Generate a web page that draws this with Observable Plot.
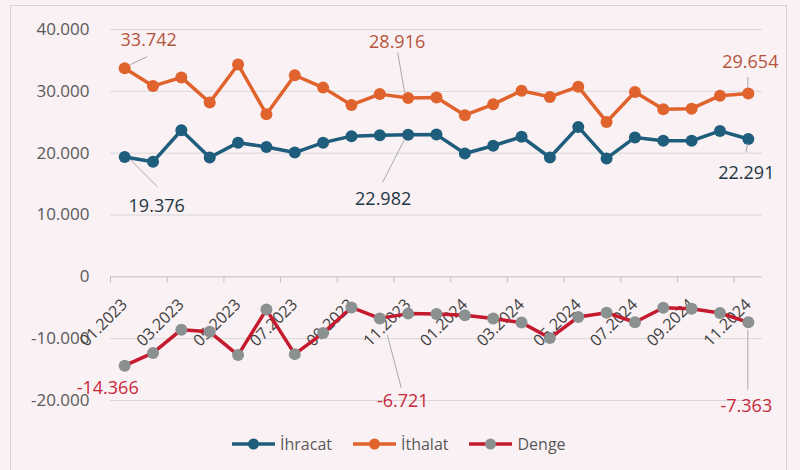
<!DOCTYPE html>
<html>
<head>
<meta charset="utf-8">
<script src="https://cdn.jsdelivr.net/npm/d3@7"></script>
<script src="https://cdn.jsdelivr.net/npm/@observablehq/plot@0.6"></script>
<style>
  html, body { margin: 0; padding: 0; background: #faf1f4; }
  body { width: 800px; height: 470px; position: relative; overflow: hidden; font-family: "Open Sans", sans-serif; }
  #frame { position: absolute; left: 10px; top: 5px; width: 777px; height: 480px; border: 1px solid #d9d2d5; box-sizing: border-box; }
  #chart { position: absolute; left: 0; top: 0; }
  #legend { position: absolute; left: 232px; top: 433px; display: flex; align-items: center; font-size: 16px; color: #595959; }
  .item { display: flex; align-items: center; margin-right: 21px; }
  .item svg { margin-right: 5px; }
</style>
</head>
<body>
<div id="frame"></div>
<div id="chart"></div>
<div id="legend"></div>
<script>
// ---- data ----
const months = ["01.2023","02.2023","03.2023","04.2023","05.2023","06.2023","07.2023","08.2023","09.2023","10.2023","11.2023","12.2023",
                "01.2024","02.2024","03.2024","04.2024","05.2024","06.2024","07.2024","08.2024","09.2024","10.2024","11.2024"];
const ihracat = [19376, 18600, 23700, 19300, 21700, 21000, 20100, 21700, 22750, 22900, 22982, 23000,
                 19950, 21200, 22650, 19300, 24250, 19150, 22550, 22000, 22000, 23600, 22291];
const ithalat = [33742, 30850, 32250, 28200, 34350, 26300, 32600, 30600, 27800, 29550, 28916, 29000,
                 26150, 27900, 30100, 29100, 30750, 25050, 29900, 27100, 27200, 29300, 29654];
const denge = [-14366, -12300, -8550, -8900, -12650, -5300, -12500, -9100, -4950, -6721, -5950, -6000,
               -6200, -6750, -7400, -9900, -6500, -5800, -7350, -5000, -5150, -5850, -7363];
const seriesNames = ["İhracat", "İthalat", "Denge"];
const yTicks = [-20000, -10000, 0, 10000, 20000, 30000, 40000];
const labeledIdx = [0, 9, 10, 22]; // annotated points

// ---- styles ----
const colors = { "İhracat": "#1f5d7d", "İthalat": "#e0622d", "Denge": "#c51a2e" };
const dotColors = { "İhracat": "#1f5d7d", "İthalat": "#e0622d", "Denge": "#8b9191" };
const labelColors = { "İhracat": "#1d3744", "İthalat": "#b5553b", "Denge": "#c8283c" };

const values = { "İhracat": ihracat, "İthalat": ithalat, "Denge": denge };
const rows = seriesNames.flatMap(s => values[s].map((v, i) => ({ s, i, v })));

const fmt = d3.formatLocale({ decimal: ",", thousands: ".", grouping: [3], currency: ["", ""], minus: "-" }).format(",d");

// annotation layout (offsets in px from point)
const annots = [
  { s: "İthalat", i: 0,  dx: 24,  dy: -28, l: [6, -3, 23, -11] },
  { s: "İhracat", i: 0,  dx: 32,  dy: 49,  l: [6, 3, 33, 30] },
  { s: "İthalat", i: 10, dx: -11, dy: -56, l: [-10, -45, -3, -5] },
  { s: "İhracat", i: 10, dx: -25, dy: 65,  l: [-25, 48, -3, 5] },
  { s: "İthalat", i: 22, dx: 2,   dy: -31, l: [0, -16, 0, -5] },
  { s: "İhracat", i: 22, dx: -2,  dy: 34,  l: [-2, 14, 0, 5] },
  { s: "Denge",   i: 0,  dx: -17, dy: 23,  l: null },
  { s: "Denge",   i: 9,  dx: 23,  dy: 83,  l: [8, 17, 22, 70] },
  { s: "Denge",   i: 22, dx: -2,  dy: 84,  l: [0, 8, 0, 68] }
].map(a => ({ ...a, v: values[a.s][a.i], label: fmt(values[a.s][a.i]) }));

const tickPos = months.map((m, i) => i).filter(i => i % 2 === 0).map(i => i - 0.5);
const catLabels = months.map((m, i) => ({ i, m })).filter(d => d.i % 2 === 0);

const leaders = (index, scales) => {
  const g = d3.create("svg:g");
  for (const a of annots) {
    if (!a.l) continue;
    const px = scales.x(a.i), py = scales.y(a.v);
    g.append("line")
      .attr("x1", px + a.l[0]).attr("y1", py + a.l[1])
      .attr("x2", px + a.l[2]).attr("y2", py + a.l[3])
      .attr("stroke", "#a9a9a9").attr("stroke-width", 1);
  }
  return g.node();
};

const chart = Plot.plot({
  width: 800,
  height: 470,
  marginLeft: 110,
  marginRight: 38,
  marginTop: 29,
  marginBottom: 70,
  style: { background: "transparent", fontFamily: "Open Sans", overflow: "visible" },
  x: { domain: [-0.5, months.length - 0.5], axis: null },
  y: { domain: [-20000, 40000], axis: null },
  marks: [
    Plot.ruleY(yTicks.filter(t => t !== 0), { stroke: "#d9d6d7", strokeWidth: 1 }),
    Plot.ruleY([0], { stroke: "#c4c0c2", strokeWidth: 1 }),
    Plot.ruleX(tickPos, { y1: 0, y2: -1000, stroke: "#c4c0c2", strokeWidth: 1 }),
    Plot.axisY({ ticks: yTicks, tickFormat: fmt, tickSize: 0, tickPadding: 21, fontSize: 17, color: "#595959", label: null }),
    Plot.text(catLabels, { x: "i", y: 0, text: "m", rotate: -45, textAnchor: "end", lineAnchor: "middle", dy: 25, fontSize: 16, fill: "#404040" }),
    ...seriesNames.map(s => Plot.line(rows.filter(r => r.s === s), { x: "i", y: "v", stroke: colors[s], strokeWidth: 3.5 })),
    ...seriesNames.map(s => Plot.dot(rows.filter(r => r.s === s), { x: "i", y: "v", r: 6, fill: dotColors[s] })),
    leaders,
    ...annots.map(a => Plot.text([a], { x: "i", y: "v", text: "label", dx: a.dx, dy: a.dy, fill: labelColors[a.s], fontSize: 18, textAnchor: "middle" }))
  ]
});
document.getElementById("chart").appendChild(chart);

// legend
const legend = document.getElementById("legend");
for (const s of seriesNames) {
  const item = document.createElement("div");
  item.className = "item";
  item.innerHTML = `<svg width="43" height="14"><line x1="0" y1="7" x2="43" y2="7" stroke="${colors[s]}" stroke-width="3.5"/><circle cx="21.5" cy="7" r="5.5" fill="${dotColors[s]}"/></svg><span>${s}</span>`;
  legend.appendChild(item);
}
</script>
</body>
</html>
